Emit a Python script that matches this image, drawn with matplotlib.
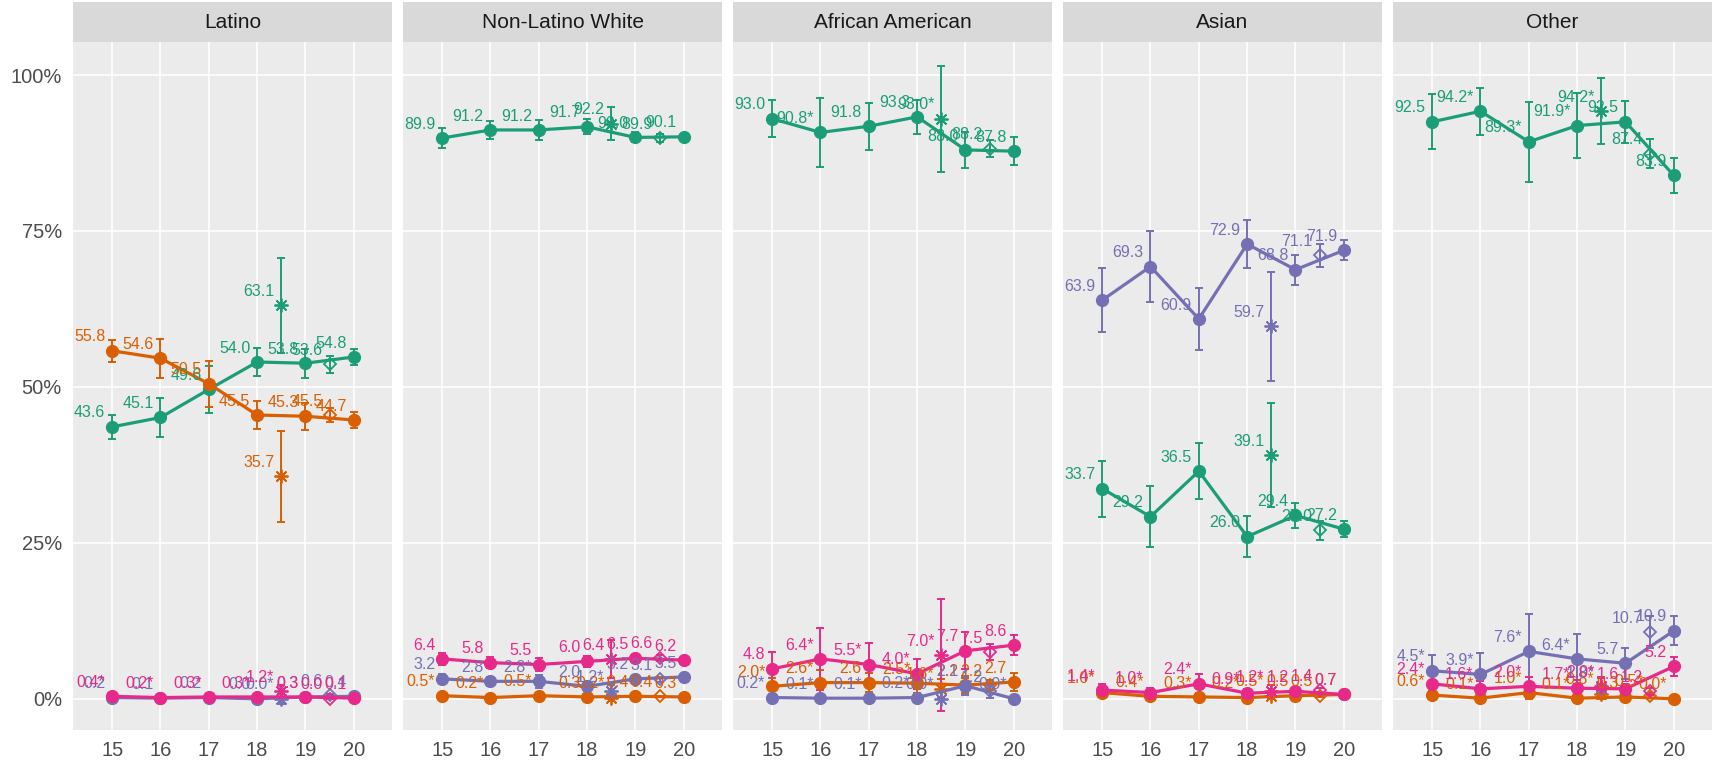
import matplotlib.pyplot as plt

plt.rcParams['font.family'] = ['Liberation Sans', 'DejaVu Sans']

# facets and x positions (18.5 = asterisk point, 19.5 = open diamond point)
panels = ['Latino', 'Non-Latino White', 'African American', 'Asian', 'Other']
years = [15, 16, 17, 18, 18.5, 19, 19.5, 20]
year_ticks = [15, 16, 17, 18, 19, 20]
pct_ticks = [0, 25, 50, 75, 100]

# labels per panel (value + significance star), one list per series colour
green_lbl = [
    ['43.6', '45.1', '49.6', '54.0', '63.1', '53.8', '53.6', '54.8'],
    ['89.9', '91.2', '91.2', '91.7', '92.2', '90.0', '89.9', '90.1'],
    ['93.0', '90.8*', '91.8', '93.3', '93.0*', '88.0', '88.2', '87.8'],
    ['33.7', '29.2', '36.5', '26.0', '39.1', '29.4', '27.0', '27.2'],
    ['92.5', '94.2*', '89.3*', '91.9*', '94.2*', '92.5', '87.4', '83.9'],
]
green_err = [
    [1.9, 3.2, 3.8, 2.3, 7.6, 2.3, 1.4, 1.3],
    [1.6, 1.5, 1.6, 1.2, 2.6, 0.8, 0.6, 0.4],
    [3.0, 5.6, 3.8, 2.7, 8.5, 2.9, 1.4, 2.2],
    [4.5, 4.9, 4.5, 3.3, 8.3, 2.0, 1.5, 1.3],
    [4.4, 3.8, 6.4, 5.2, 5.3, 3.4, 2.3, 2.8],
]
orange_lbl = [
    ['55.8', '54.6', '50.5', '45.5', '35.7', '45.3', '45.5', '44.7'],
    ['0.5*', '0.2*', '0.5*', '0.3', '0.2*', '0.4', '0.4', '0.3'],
    ['2.0*', '2.6*', '2.6', '2.5*', '1.6*', '2.2', '2.2', '2.7'],
    ['1.0*', '0.4*', '0.3*', '0.2*', '0.5*', '0.5', '0.5', '0.7'],
    ['0.6*', '0.1*', '1.0*', '0.1*', '0.8*', '0.3', '0.5*', '0.0*'],
]
orange_err = [
    [1.8, 3.1, 3.7, 2.2, 7.3, 2.2, 1.2, 1.3],
    [0.3, 0.2, 0.3, 0.2, 0.3, 0.1, 0.1, 0.1],
    [1.3, 2.0, 1.5, 1.5, 1.5, 1.2, 0.8, 1.5],
    [0.6, 0.4, 0.3, 0.2, 0.5, 0.3, 0.2, 0.2],
    [0.6, 0.2, 1.0, 0.2, 0.8, 0.3, 0.4, 0.1],
]
purple_lbl = [
    ['0.2', '0.1', '0.2', '0.0', '0.0*', '0.3', '0.6', '0.4'],
    ['3.2', '2.8', '2.8*', '2.0', '1.2*', '3.2', '3.1', '3.5'],
    ['0.2*', '0.1*', '0.1*', '0.2*', '0.0*', '2.1', '1.2', '0.0*'],
    ['63.9', '69.3', '60.9', '72.9', '59.7', '68.8', '71.1', '71.9'],
    ['4.5*', '3.9*', '7.6*', '6.4*', '1.8*', '5.7', '10.7', '10.9'],
]
purple_err = [
    [0.2, 0.1, 0.2, 0.1, 0.8, 0.2, 0.2, 0.2],
    [0.8, 0.7, 1.0, 0.7, 1.0, 0.5, 0.4, 0.3],
    [0.2, 0.1, 0.1, 0.2, 0.0, 1.5, 1.0, 0.0],
    [5.1, 5.7, 5.0, 3.8, 8.8, 2.4, 1.8, 1.6],
    [2.5, 3.5, 6.0, 4.0, 1.5, 2.5, 2.5, 2.3],
]
pink_lbl = [
    ['0.4*', '0.2*', '0.3*', '0.3*', '1.2*', '0.3', '0.0', '0.1'],
    ['6.4', '5.8', '5.5', '6.0', '6.4', '6.5', '6.6', '6.2'],
    ['4.8', '6.4*', '5.5*', '4.0*', '7.0*', '7.7', '7.5', '8.6'],
    ['1.4*', '1.0*', '2.4*', '0.9*', '1.2*', '1.2', '1.4', '0.7'],
    ['2.4*', '1.6*', '2.0*', '1.7*', '2.0*', '1.6', '1.2', '5.2'],
]
pink_err = [
    [0.3, 0.2, 0.2, 0.2, 1.0, 0.2, 0.1, 0.1],
    [1.0, 0.9, 1.0, 0.9, 3.0, 0.5, 0.5, 0.4],
    [2.7, 5.0, 3.5, 2.4, 9.0, 3.0, 1.3, 1.6],
    [1.0, 0.8, 1.5, 0.6, 1.0, 0.4, 0.4, 0.3],
    [1.5, 1.2, 1.5, 1.3, 1.5, 0.8, 0.6, 1.5],
]

series = [
    (green_lbl, green_err, '#1B9E77'),
    (orange_lbl, orange_err, '#D95F02'),
    (purple_lbl, purple_err, '#7570B3'),
    (pink_lbl, pink_err, '#E7298A'),
]

W, H = 1713, 765
fig = plt.figure(figsize=(W / 100, H / 100), dpi=100)


def draw_series(ax, labels, errs, color):
    vals = [float(s.rstrip('*')) for s in labels]
    main = [0, 1, 2, 3, 5, 7]
    ax.errorbar(years, vals, yerr=errs, fmt='none', ecolor=color,
                elinewidth=1.4, capsize=3, capthick=1.4, zorder=3)
    ax.plot([years[i] for i in main], [vals[i] for i in main], color=color,
            lw=2.3, marker='o', ms=8.5, zorder=4)
    ax.plot(years[4], vals[4], marker=(8, 2, 0), ms=10, mec=color, mew=1.3,
            ls='none', zorder=4)
    ax.plot(years[6], vals[6], marker='D', ms=6.5, mfc='none', mec=color,
            mew=1.3, ls='none', zorder=4)
    for x, v, s in zip(years, vals, labels):
        ax.annotate(s, (x, v), xytext=(-5, 10), textcoords='offset points',
                    ha='right', va='center', color=color, fontsize=11.5,
                    zorder=5)


for p, name in enumerate(panels):
    left = (73 + p * 330) / W
    ax = fig.add_axes([left, 35 / H, 319 / W, 688 / H])
    ax.set_facecolor('#EBEBEB')
    for s in ax.spines.values():
        s.set_visible(False)
    ax.grid(color='white', lw=1.2)
    ax.set_axisbelow(True)
    ax.set_xlim(14.19, 20.79)
    ax.set_ylim(-5.0, 105.3)
    ax.set_xticks(year_ticks)
    ax.set_yticks(pct_ticks)
    ax.tick_params(length=0, labelsize=14.5, labelcolor='#4D4D4D', pad=8)
    if p == 0:
        ax.set_yticklabels([f'{t}%' for t in pct_ticks])
        ax.tick_params(axis='y', pad=8)
    else:
        ax.set_yticklabels([])

    for lbl, err, col in series:
        draw_series(ax, lbl[p], err[p], col)

    # facet strip
    sax = fig.add_axes([left, (H - 42) / H, 319 / W, 40 / H])
    sax.set_facecolor('#D9D9D9')
    sax.set_xticks([])
    sax.set_yticks([])
    for s in sax.spines.values():
        s.set_visible(False)
    sax.text(0.5, 0.5, name, ha='center', va='center', fontsize=15,
             color='#1A1A1A', transform=sax.transAxes)

plt.savefig('out.png', dpi=100)
